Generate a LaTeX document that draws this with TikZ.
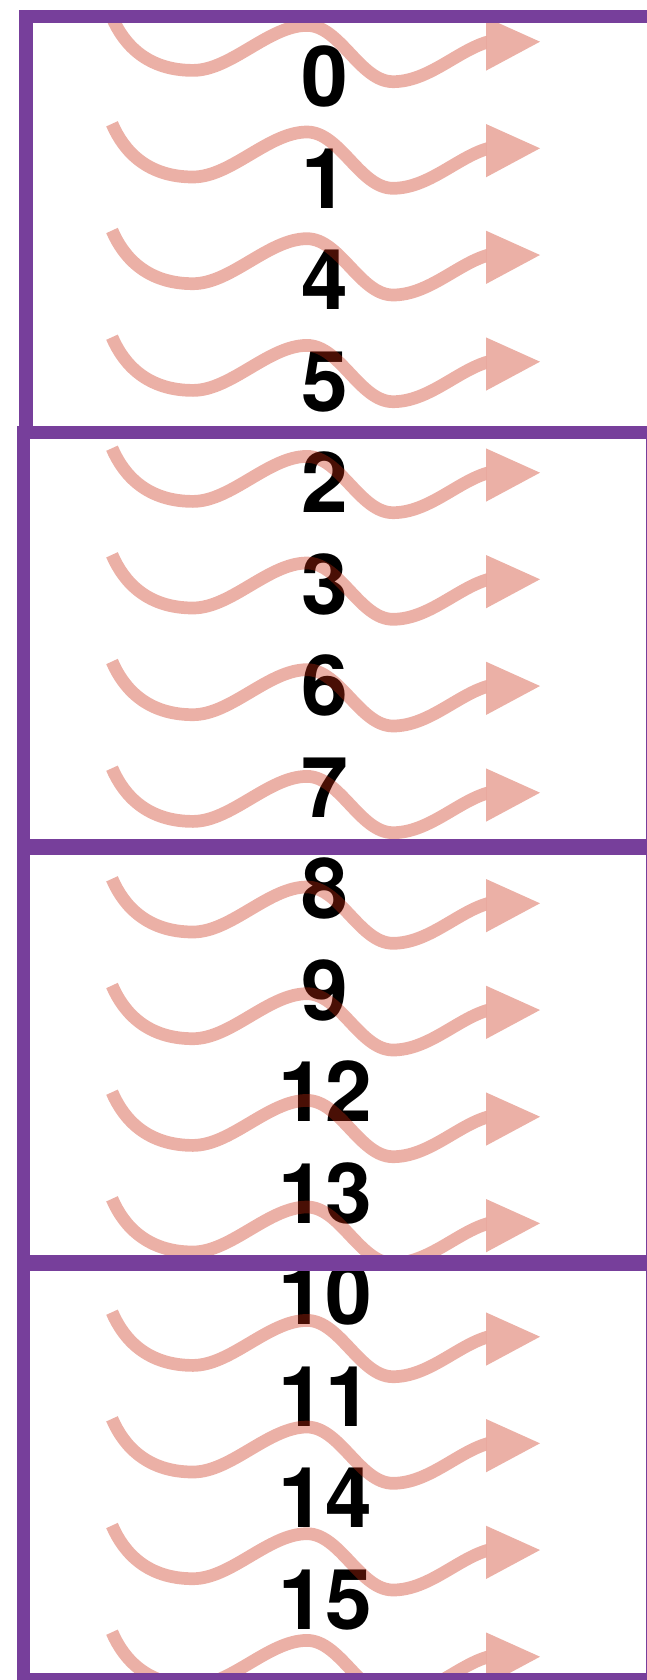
\documentclass[tikz,border=0pt]{standalone}
\usepackage{fontspec}
\setmainfont{TeX Gyre Heros}
\definecolor{boxpurple}{RGB}{119,63,155}
\definecolor{wavered}{RGB}{200,41,14}
\begin{document}
\begin{tikzpicture}[x=1pt,y=-1pt,
  digit/.style={font=\fontsize{84}{84}\selectfont\bfseries, inner sep=0pt, anchor=base, text=black},
  wave/.style={draw=wavered, line width=12.7pt, line cap=butt, draw opacity=0.37},
  wavehead/.style={fill=wavered, fill opacity=0.37},
  boxline/.style={draw=boxpurple, line width=13.3pt}]
\useasboundingbox (0,0) rectangle (647,1680);
\clip (0,0) rectangle (647,1680);
% digits
\foreach \n [count=\i from 0] in {0,1,4,5,2,3,6,7,8,9,12,13,10,11,14,15}
  \node[digit] (d\i) at (325,{106.8+101.48*\i}) {\n};
% wavy arrows
\foreach \T in {41.7,148.3,255,361.7,472.7,579.3,686,792.7,903.3,1010,1116.7,1223.3,1336.7,1443.3,1550,1656.7}{
  \begin{scope}[shift={(0,\T)}]
    \begin{scope}
      \clip (80,-80) rectangle (486,80);
      \draw[wave] (112,-24.5) .. controls (124,3.5) and (148,28.7) .. (193,28.7)
        .. controls (231,28.7) and (269,-16.3) .. (307,-16.3)
        .. controls (340,-16.3) and (360,40) .. (393,40)
        .. controls (428,40) and (457,9.5) .. (487,0.5)
        -- (497,-2.5);
    \end{scope}
    \fill[wavehead] (486,-24.3) -- (540,0) -- (486,29) -- cycle;
  \end{scope}}
% boxes
\draw[boxline] (26,16.7) rectangle (662,432.7);
\draw[boxline] (23.5,432.7) rectangle (652.3,845.2);
\draw[boxline] (23.5,848.3) rectangle (652.3,1261.7);
\draw[boxline] (23.5,1264.3) rectangle (652.3,1680);
\end{tikzpicture}
\end{document}
